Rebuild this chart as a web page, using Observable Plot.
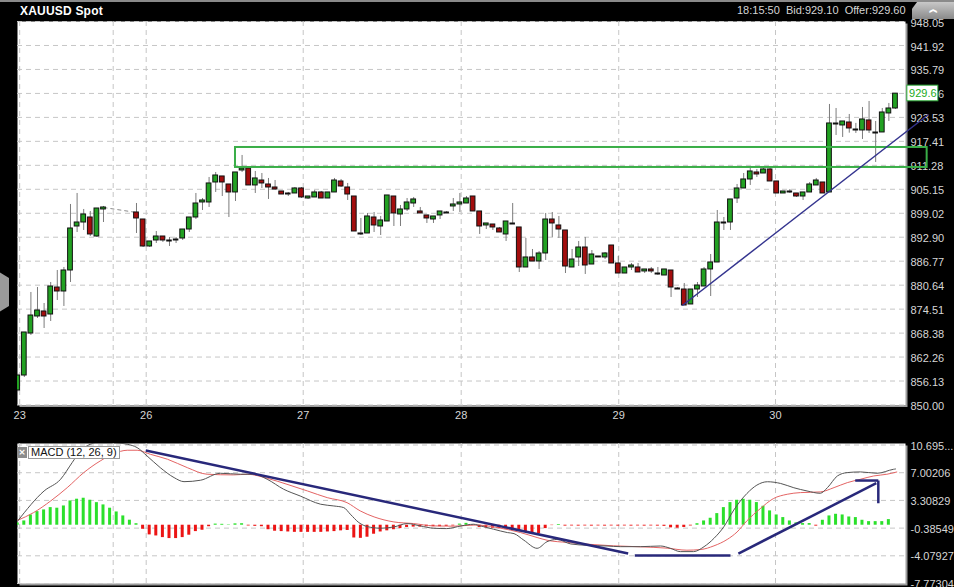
<!DOCTYPE html>
<html><head><meta charset="utf-8">
<script src="https://cdn.jsdelivr.net/npm/d3@7"></script>
<script src="https://cdn.jsdelivr.net/npm/@observablehq/plot@0.6"></script>
<style>
html,body{margin:0;padding:0;background:#000;width:954px;height:587px;overflow:hidden;font-family:"Liberation Sans",Arial,sans-serif}
#wrap{position:relative;width:954px;height:587px;background:#000}
.abs{position:absolute}
svg{overflow:visible}
</style></head><body><div id="wrap">
<div id="main" class="abs" style="left:0;top:0"></div>
<div id="macd" class="abs" style="left:0;top:430px"></div>
<div class="abs" style="left:0;top:0;width:954px;height:2px;background:#8a8a8a"></div>
<div class="abs" style="left:20px;top:4px;color:#fff;font:bold 12px 'Liberation Sans Narrow','Liberation Sans',Arial;letter-spacing:0.2px">XAUUSD Spot</div>
<div class="abs" style="left:737px;top:4px;color:#d4d4d4;font:11px 'Liberation Sans Narrow','Liberation Sans',Arial;white-space:pre">18:15:50  Bid:929.10  Offer:929.60</div>
<div class="abs" style="left:912px;top:2px;width:42px;height:17px;background:linear-gradient(#c8c8c8,#8a8a8a);clip-path:polygon(12% 0,100% 0,100% 100%,0 100%,0 40%);color:#fff;font:bold 9px 'DejaVu Sans';text-align:center;line-height:14px">︽</div>
<div class="abs" style="left:-5px;top:272px;width:14px;height:40px;background:#9a9a9a;clip-path:polygon(30% 0,100% 15%,100% 85%,30% 100%,0 85%,0 15%)"></div>
<div class="abs" style="left:17px;top:446px;display:flex;align-items:center;font:11px 'Liberation Sans',Arial">
  <span style="display:inline-block;width:10px;height:11px;background:#8c8c8c;color:#fff;font:bold 9px 'DejaVu Sans';text-align:center;line-height:11px;margin-right:1px">×</span>
  <span style="display:inline-block;background:#fff;border:1px solid #9a9a9a;padding:0 2px;line-height:11px;color:#111">MACD (12, 26, 9)</span>
</div>
</div>
<script>
// ---------- DATA ----------
// candles: [slot, open, high, low, close]
const day23 = [
[0,853.71,858.05,853.20,857.54],[1,857.54,868.54,857.03,868.54],[2,868.28,878.77,867.77,872.88],
[3,872.63,880.04,872.12,874.16],[4,873.91,875.95,869.56,872.63],[5,873.14,881.32,871.35,880.30],
[6,880.04,884.39,876.72,879.02],[7,879.02,885.16,875.19,884.39],[8,884.39,901.27,881.32,895.13],
[9,895.64,904.08,894.11,896.66],[10,896.66,899.99,894.62,898.71],[11,897.94,899.48,893.08,893.60],
[12,893.08,900.24,892.83,900.24],[13,899.99,900.76,896.66,900.50]];
const day26 = [
[18,899.22,901.52,893.85,897.69],[19,897.43,897.43,890.27,890.53],[20,890.53,891.81,890.27,891.81],
[21,892.06,894.36,891.29,893.08],[22,893.08,893.08,891.55,892.06],[23,892.06,892.83,890.53,892.06],
[24,892.32,892.83,891.29,892.32],[25,892.57,894.87,892.06,894.87],[26,894.87,897.94,894.11,897.94],
[27,897.94,904.08,897.43,901.52],[28,901.78,902.80,899.73,902.29],[29,901.78,908.17,900.50,906.64],
[30,906.89,909.45,904.34,908.68],[31,908.43,908.43,903.31,906.89],[32,906.38,906.38,897.94,904.34],
[33,904.34,909.45,902.03,909.45],[34,909.96,913.80,909.45,910.47],[35,910.47,910.47,906.13,906.13],
[36,906.13,909.71,904.08,907.92],[37,907.40,909.19,905.36,906.64],[38,906.38,907.92,902.55,905.61],
[39,905.61,907.40,904.85,905.10],[40,904.59,904.59,903.82,903.82],[41,904.08,904.34,903.31,904.08],
[42,904.08,905.61,904.08,905.36],[43,905.36,905.61,902.80,903.06]];
const day27 = [
[44,902.80,903.31,902.55,903.31],[45,903.06,904.85,903.06,904.34],[46,904.34,904.59,902.80,902.80],
[47,902.80,904.34,902.80,904.34],[48,904.34,907.92,904.34,907.40],[49,907.15,907.66,905.61,905.87],
[50,905.61,906.64,902.29,903.82],[51,903.31,903.31,894.36,894.36],[52,893.85,897.69,893.34,893.60],
[53,893.85,898.97,893.85,898.20],[54,897.94,899.22,894.11,895.90],[55,895.64,898.20,893.34,897.18],
[56,896.92,903.57,896.92,903.57],[57,903.31,903.31,895.64,898.97],[58,898.71,901.01,895.64,899.99],
[59,899.99,902.80,899.48,901.78],[60,901.52,903.06,900.50,902.55],[61,899.48,900.50,898.97,898.97],
[62,898.46,898.46,896.41,897.69],[63,897.43,898.20,896.41,898.20],[64,898.46,899.48,897.43,899.48],
[65,899.22,899.48,898.97,899.22],[66,900.76,902.80,899.48,901.27],[67,901.27,904.08,899.22,901.78]];
const day28 = [
[68,901.52,903.31,901.52,902.80],[69,903.31,903.31,899.48,899.48],[70,899.48,899.48,893.60,895.64],
[71,895.90,896.41,894.87,896.41],[72,896.15,896.15,894.62,895.39],[73,895.13,895.39,894.11,894.11],
[74,893.60,896.92,891.81,896.92],[75,896.41,901.52,896.41,896.41],[76,895.39,895.39,883.88,885.16],
[77,885.16,892.57,885.16,887.72],[78,887.72,889.76,886.69,886.69],[79,886.69,889.25,884.65,888.74],
[80,888.74,898.97,886.95,897.43],[81,897.43,899.22,892.83,896.41],[82,895.90,898.20,892.57,894.87],
[83,894.62,894.62,883.62,885.41],[84,885.16,889.76,885.16,887.20],[85,887.72,891.81,885.41,890.27],
[86,890.27,892.83,883.37,885.67],[87,885.92,889.50,885.92,888.48],[88,887.97,887.97,887.72,887.72],
[89,887.72,888.99,887.20,888.74],[90,890.78,890.78,886.18,886.18],[91,886.18,887.97,883.62,883.62]];
const day29 = [
[92,883.62,885.16,883.62,885.16],[93,885.16,886.18,884.39,885.67],[94,885.16,886.18,883.88,883.88],
[95,884.14,884.65,883.62,884.65],[96,884.65,885.16,883.62,884.14],[97,883.62,885.16,883.11,883.62],
[98,883.11,884.65,883.11,884.65],[99,884.39,884.39,877.49,880.04],[100,879.79,880.04,879.53,879.79],
[101,879.53,881.07,875.44,875.44],[102,875.70,879.53,875.70,879.53],[103,879.53,881.32,877.49,880.55],
[104,880.30,885.16,880.30,884.65],[105,884.65,888.48,877.74,886.44],[106,886.44,899.73,886.44,896.66],
[107,896.66,897.94,894.62,896.66],[108,896.66,902.55,894.62,902.55],[109,902.80,906.38,901.52,905.36],
[110,905.36,909.19,905.36,907.66],[111,907.66,910.47,906.13,909.71],[112,909.45,910.22,908.17,908.94],
[113,909.19,910.47,909.19,910.22],[114,910.22,910.47,907.15,907.15]];
const day30 = [
[115,907.15,907.15,904.08,904.08],[116,904.08,904.59,904.08,904.59],[117,904.59,905.10,904.08,904.59],
[118,904.08,904.08,903.06,903.31],[119,903.31,904.34,902.29,904.34],[120,904.34,906.89,904.34,906.38],
[121,906.13,907.92,906.13,907.40],[122,906.89,906.89,904.08,904.08],[123,904.34,926.84,904.34,921.98],
[124,921.98,925.81,918.91,921.98],[125,921.47,922.49,918.40,922.49],[126,922.23,924.28,919.50,920.70],
[127,920.45,922.00,919.43,920.45],[128,920.19,926.07,917.89,923.00],[129,922.75,927.60,919.42,920.19],
[130,919.68,922.49,912.01,919.68],[131,919.68,925.81,919.68,924.79],[132,924.54,927.09,922.49,925.81],
[133,925.81,929.65,925.56,929.60]];

const priceTicks = [850.00,856.13,862.26,868.38,874.51,880.64,886.77,892.90,899.02,905.15,911.28,917.41,923.53,929.66,935.79,941.92,948.05];
const dayTickPos = [0.3,19.47,43.26,67.2,91.07,114.82];
const dayLabels = ["23","26","27","28","29","30"];
const extraGrid = [14.47];

// MACD histogram, one value per slot 0..133
const macdHist = [0.3,0.57,1.37,1.81,2.04,2.35,2.27,2.57,3.24,3.47,3.60,3.33,3.01,2.71,2.27,1.77,1.24,0.67,0.2,
-0.54,-1.29,-1.43,-1.65,-1.78,-1.78,-1.65,-1.33,-0.85,-0.67,-0.2,0.15,0.12,0.05,0.18,0.2,-0.1,-0.15,-0.2,
-0.6,-0.8,-0.85,-0.9,-0.95,-0.95,-0.95,-0.95,-0.95,-0.9,-0.85,-0.75,-0.7,-1.7,-1.75,-1.6,-1.2,-0.9,-0.75,
-0.6,-0.45,-0.3,-0.25,-0.25,-0.2,-0.2,-0.2,-0.15,-0.1,0.15,0.25,-0.05,-0.3,-0.35,-0.4,-0.45,-0.5,-0.6,-0.75,
-0.9,-1.1,-1.15,-0.45,-0.05,0.1,-0.12,-0.1,-0.12,-0.1,-0.12,-0.1,-0.12,-0.1,-0.12,-0.1,-0.12,-0.1,-0.12,
-0.1,-0.12,-0.15,-0.35,-0.4,-0.3,-0.1,0.2,0.57,0.93,1.55,2.35,3.02,3.33,3.46,3.33,3.02,2.53,1.91,1.37,1.02,
0.57,0.31,0.22,0.22,-0.12,0.66,1.24,1.46,1.37,1.1,1.02,0.66,0.48,0.48,0.48,0.75];
// MACD line [slot, value]
const macdLine = [[0,0.57],[4,4.57],[6.5,6.13],[8.25,8.35],[9.5,9.9],[11,10.8],[13,11.2],[15,11.0],[16.6,10.8],
[18.1,10.35],[19.6,9.24],[21.6,7.68],[23.7,6.35],[25.2,5.81],[27.7,6.0],[30.7,6.93],[33.8,6.8],[35.8,6.8],
[37.8,6.13],[40.3,4.8],[42.8,3.9],[45.9,2.8],[47.9,2.57],[49.4,2.35],[50.4,1.47],[51.7,0.35],[53,-0.19],
[55,-0.4],[57,-0.23],[59,0.22],[61,-0.09],[63,-0.4],[65,-0.45],[67.2,-0.09],[69.1,0.13],[70.1,-0.09],
[72.1,-0.53],[74.2,-0.98],[75.2,-1.12],[76.7,-2.0],[78.7,-3.08],[80.2,-2.2],[81.7,-1.9],[83.8,-2.5],
[86.3,-2.68],[89.3,-2.77],[91.3,-2.86],[94.4,-2.86],[97.4,-2.77],[98.9,-3.08],[100.4,-3.52],[102.4,-3.52],
[104,-2.86],[105.5,-1.75],[107,-0.2],[108.5,2.02],[110.5,4.24],[112,5.35],[113.6,5.8],[115.6,5.57],
[117.6,5.0],[119.6,4.57],[121.6,4.26],[122.7,5.02],[124.2,6.57],[125.7,7.02],[127.7,7.11],[130.2,6.93],
[132.7,7.46],[133,7.5]];
// signal line [slot, value]
const signalLine = [[0,0.66],[2.4,1.68],[5,3.24],[7.5,5.01],[10,7.01],[12.5,8.57],[14.6,9.55],[16.6,10.0],
[18.1,10.0],[20.1,9.46],[22.7,8.8],[25.7,7.68],[28.7,6.8],[32.7,6.71],[34.8,6.8],[37.8,6.26],[40.8,5.46],
[43.9,4.57],[46.9,3.68],[49.9,3.01],[51.9,1.91],[54,1.11],[57,0.44],[60,0.22],[63,-0.09],[66.1,-0.13],
[69.1,0.02],[70.1,0.0],[73.2,-0.4],[76.2,-0.98],[78.7,-1.64],[80.2,-2.0],[83.3,-2.3],[86.3,-2.53],
[90.3,-2.75],[94.4,-2.88],[98.4,-3.06],[101.4,-3.33],[103.5,-3.24],[105.5,-2.75],[107.5,-1.9],[109,-0.9],
[110.5,0.6],[112.5,2.2],[114.5,3.55],[116.6,4.13],[118.6,4.35],[121.6,4.44],[123.7,5.02],[125.7,5.68],
[127.7,6.13],[129.7,6.57],[131.7,6.8],[133.2,7.1]];
const macdTicks = [10.69581,7.00206,3.30829,-0.38549,-4.07927,-7.77304];
const macdTickLabels = ["10.695...","7.00206","3.30829","-0.38549","-4.07927","-7.77304"];

// annotations
const resistBox = [{x1:33.0, x2:137.8, y1:910.73, y2:915.84}];
const trendMain = [{x1:100.7, y1:875.44, x2:138.0, y2:924.28}];
const priceTag = [{x1:134.8, x2:139.5, y1:927.65, y2:931.65, label:"929.6"}];
const macdTrend = [
  {x1:19.4, y1:9.96, x2:92.5, y2:-3.78},
  {x1:93.5, y1:-4.04, x2:108.0, y2:-4.04},
  {x1:109.2, y1:-3.78, x2:130.1, y2:5.6},
  {x1:126.9, y1:5.96, x2:130.4, y2:5.96},
  {x1:130.4, y1:5.96, x2:130.4, y2:2.93}
];

// ---------- BUILD ----------
const toObj = r => ({i:r[0], open:r[1], high:r[2], low:r[3], close:r[4]});
const candles = [...day23, ...day26, ...day27, ...day28, ...day29, ...day30].map(toObj);
const bodies = candles.filter(d => d.open !== d.close);
const dojis = candles.filter(d => d.open === d.close);
const lastFri = toObj(day23[day23.length-1]), firstSun = toObj(day26[0]);
const gapLink = [{x1:lastFri.i, y1:lastFri.close, x2:firstSun.i, y2:firstSun.open}];
const xDomain = [-0.03, 134.52];
const gridStyle = {stroke:"#c6c6c6", strokeOpacity:1, strokeDasharray:"5,4", strokeWidth:1};
const GREEN = "#22a122", RED = "#a30d0d";

const main = Plot.plot({
  width:954, height:430,
  marginLeft:17, marginRight:49, marginTop:21, marginBottom:25.5,
  x:{domain:xDomain, axis:null},
  y:{domain:[850, 948.05], axis:null},
  style:{background:"transparent", fontFamily:"'Liberation Sans', Arial, sans-serif"},
  marks:[
    Plot.frame({fill:"#9d9d9d", dx:2, dy:2}),
    Plot.frame({fill:"white"}),
    Plot.gridY(priceTicks, gridStyle),
    Plot.gridX([...dayTickPos, ...extraGrid], gridStyle),
    Plot.text(priceTicks, {y:d=>d, text:d=>d.toFixed(2), frameAnchor:"right", dx:5, dy:1.5, textAnchor:"start", fill:"#d6d6d6", fontSize:11}),
    Plot.text(dayTickPos, {x:d=>d, text:(d,i)=>dayLabels[i], frameAnchor:"bottom", dy:14, fill:"#d6d6d6", fontSize:11}),
    Plot.link(gapLink, {x1:"x1", y1:"y1", x2:"x2", y2:"y2", stroke:"#8a8a8a", strokeDasharray:"4,3"}),
    Plot.ruleX(candles, {x:"i", y1:"low", y2:"high", stroke:"#7c7c7c", strokeWidth:1, clip:true}),
    Plot.rect(bodies, {x1:d=>d.i-0.36, x2:d=>d.i+0.36, y1:"open", y2:"close",
      fill:d=>d.close>d.open?GREEN:RED, stroke:"#111", strokeWidth:1, clip:true}),
    Plot.ruleY(dojis, {x1:d=>d.i-0.42, x2:d=>d.i+0.42, y:"close", stroke:"#111", strokeWidth:2, clip:true}),
    Plot.rect(resistBox, {x1:"x1", x2:"x2", y1:"y1", y2:"y2", fill:"none", stroke:"#3aae48", strokeWidth:2}),
    Plot.link(trendMain, {x1:"x1", y1:"y1", x2:"x2", y2:"y2", stroke:"#34348f", strokeWidth:1.5}),
    Plot.rect(priceTag, {x1:"x1", x2:"x2", y1:"y1", y2:"y2", fill:"white", stroke:"#2fae3a", strokeWidth:1}),
    Plot.text(priceTag, {x:d=>(d.x1+d.x2)/2, y:d=>(d.y1+d.y2)/2, text:"label", fill:"#22aa22", fontSize:11})
  ]
});
document.getElementById("main").appendChild(main);

const histData = macdHist.map((v,i)=>({i, v}));
const macd = Plot.plot({
  width:954, height:157,
  marginLeft:17, marginRight:49, marginTop:13, marginBottom:4,
  x:{domain:xDomain, axis:null},
  y:{domain:[-7.77304, 10.9], axis:null},
  style:{background:"transparent", fontFamily:"'Liberation Sans', Arial, sans-serif"},
  marks:[
    Plot.frame({fill:"#9d9d9d", dx:2, dy:2}),
    Plot.frame({fill:"white"}),
    Plot.gridY(macdTicks, gridStyle),
    Plot.gridX([...dayTickPos, ...extraGrid], gridStyle),
    Plot.text(macdTicks, {y:d=>d, text:(d,i)=>macdTickLabels[i], frameAnchor:"right", dx:5, dy:1, textAnchor:"start", fill:"#d6d6d6", fontSize:11}),
    Plot.ruleX(histData, {x:"i", y1:0, y2:"v", dx:-0.5, stroke:d=>d.v>=0?"#2be02b":"#ec1414", strokeWidth:3, clip:true}),
    Plot.line(signalLine, {x:d=>d[0], y:d=>d[1], stroke:"#e46464", strokeWidth:1, curve:"monotone-x", clip:true}),
    Plot.line(macdLine, {x:d=>d[0], y:d=>d[1], stroke:"#555", strokeWidth:1, curve:"monotone-x", clip:true}),
    Plot.link(macdTrend, {x1:"x1", y1:"y1", x2:"x2", y2:"y2", stroke:"#28287a", strokeWidth:2.5})
  ]
});
document.getElementById("macd").appendChild(macd);
</script>
</body></html>
